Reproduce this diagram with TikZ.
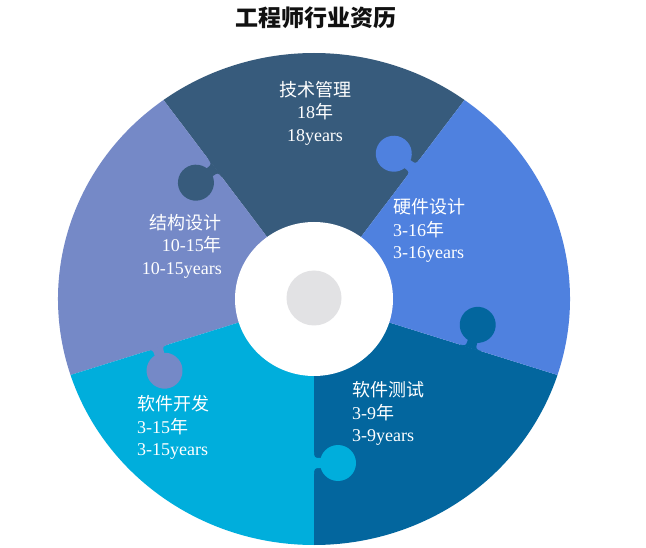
\documentclass[tikz,border=0pt]{standalone}
\usepackage{fontspec}
\setmainfont{Liberation Serif}
\newfontfamily\cjk{Noto Sans CJK SC}
\newcommand{\zh}[1]{{\cjk #1}}
\definecolor{cTop}{HTML}{375B7C}
\definecolor{cRight}{HTML}{4F81DF}
\definecolor{cBR}{HTML}{03669E}
\definecolor{cBL}{HTML}{00AEDC}
\definecolor{cLeft}{HTML}{7589C7}
\definecolor{cGray}{HTML}{E2E2E4}
\definecolor{cTitle}{HTML}{111111}
\newcommand{\puzzletab}[2]{%
  \begin{scope}[rotate=#1]
    \fill[#2] (153,-0.5) -- (153,0) .. controls (158,0) and (159,1) .. (159,5) -- (159,12) -- (169,12) -- (169,5) .. controls (169,1) and (170,0) .. (175,0) -- (175,-0.5) -- cycle;
    \fill[#2] (164,24) circle[radius=18];
  \end{scope}}
\tikzset{
  lbl/.style={text=white, font=\fontsize{18}{22.5}\selectfont, inner sep=0pt},
  ttl/.style={text=cTitle, font=\cjk\bfseries\fontsize{23}{27}\selectfont, inner sep=0pt}
}
\begin{document}
\begin{tikzpicture}[x=1pt,y=1pt]
\useasboundingbox (0,0) rectangle (646,547);
\fill[white] (0,0) rectangle (646,547);
\node[ttl] (title) at (316,529) {工程师行业资历};
\begin{scope}[shift={(314,248)}]
  \fill[cTop] (0,0) -- (54:256 and 246) arc[start angle=54, end angle=126, x radius=256, y radius=246] -- cycle;
  \fill[cLeft] (0,0) -- (126:256 and 246) arc[start angle=126, end angle=198, x radius=256, y radius=246] -- cycle;
  \fill[cBL] (0,0) -- (198:256 and 246) arc[start angle=198, end angle=270, x radius=256, y radius=246] -- cycle;
  \fill[cBR] (0,0) -- (270:256 and 246) arc[start angle=270, end angle=342, x radius=256, y radius=246] -- cycle;
  \fill[cRight] (0,0) -- (-18:256 and 246) arc[start angle=-18, end angle=54, x radius=256, y radius=246] -- cycle;
  \puzzletab{52.9}{cRight}
  \puzzletab{127.1}{cTop}
  \puzzletab{197.3}{cLeft}
  \puzzletab{270}{cBL}
  \puzzletab{342.7}{cBR}
  \fill[white] (0,0) ellipse[x radius=79, y radius=77];
  \fill[cGray] (0,1) circle[radius=27.5];
\end{scope}
\node[lbl, align=center] (lTop) at (315,434) {\zh{技术管理}\\18\zh{年}\\18years};
\node[lbl, align=left, anchor=west] (lRight) at (393,316.5) {\zh{硬件设计}\\3-16\zh{年}\\3-16years};
\node[lbl, align=right, anchor=east] (lLeft) at (222,301) {\zh{结构设计}\\10-15\zh{年}\\10-15years};
\node[lbl, align=left, anchor=west] (lBL) at (137,119.5) {\zh{软件开发}\\3-15\zh{年}\\3-15years};
\node[lbl, align=left, anchor=west] (lBR) at (352,133.5) {\zh{软件测试}\\3-9\zh{年}\\3-9years};
\end{tikzpicture}
\end{document}
